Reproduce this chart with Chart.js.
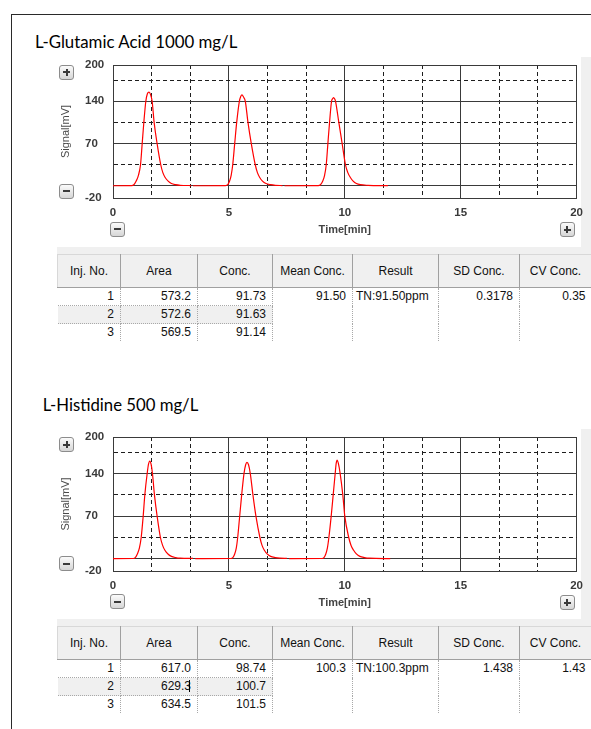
<!DOCTYPE html>
<html><head><meta charset="utf-8">
<script src="https://cdn.jsdelivr.net/npm/chart.js@4.4.1/dist/chart.umd.min.js"></script>
<style>
html,body{margin:0;padding:0;background:#fff;}
body{width:591px;height:729px;position:relative;overflow:hidden;font-family:"Liberation Sans",Arial,sans-serif;}
.frame{position:absolute;left:11px;top:14px;width:640px;height:800px;border-left:1px solid #2a2a2a;border-top:1px solid #2a2a2a;}
.title{position:absolute;font-family:Lato,"Noto Sans",sans-serif;color:#000;white-space:nowrap;line-height:1;}
.cv{position:absolute;left:0;width:591px;}
.btn{position:absolute;width:15px;height:15px;margin-left:-7.5px;margin-top:-7.5px;border:1px solid #8c8c8c;border-radius:3px;background:linear-gradient(#fbfbfb,#d6d6d6);box-sizing:border-box;}
.btn::before{content:"";position:absolute;left:3px;top:5.5px;width:7px;height:2px;background:#3a3a3a;}
.btn.plus::after{content:"";position:absolute;left:5.5px;top:3px;width:2px;height:7px;background:#3a3a3a;}
.band{position:absolute;background:#f0f0f0;}
table.res{position:absolute;left:57px;width:534px;border-collapse:collapse;table-layout:fixed;font-size:12px;color:#111;}
table.res th{height:32px;padding:0;background:#f0f0f0;font-weight:normal;text-align:center;border-top:1px solid #d8d8d8;border-right:1px solid #a0a0a0;border-bottom:1px solid #a0a0a0;}
table.res td{height:17px;line-height:17px;padding:0 6px 0 2px;text-align:right;border-right:1px dotted #a8a8a8;border-bottom:1px dotted #a8a8a8;white-space:nowrap;overflow:visible;}
table.res td.span{vertical-align:top;border-bottom:none;}
table.res td.left{text-align:left;padding-left:3px;}
table.res tr.sel td.c{background:#f0f0f0;}
table.res tr.last td{border-bottom:none;}
.caret{display:inline-block;width:1px;height:12px;background:#000;margin-left:-2px;margin-right:1px;vertical-align:-2px;}
</style>
</head>
<body>
<div class="frame"></div>

<div class="title" id="t1">L-Glutamic Acid 1000 mg/L</div>
<div class="band" style="left:581px;top:57px;width:10px;height:190px;"></div>
<div class="band" style="left:57px;top:247px;width:534px;height:7px;"></div>
<div class="cv" style="top:50px;height:195px;"><canvas id="c1"></canvas></div>
<div class="btn plus" style="left:66.7px;top:72px;"></div>
<div class="btn" style="left:66.7px;top:191px;"></div>
<div class="btn" style="left:117.3px;top:229px;"></div>
<div class="btn plus" style="left:567.3px;top:229.5px;"></div>
<table class="res" id="tb1" style="top:254px;"></table>

<div class="title" id="t2">L-Histidine 500 mg/L</div>
<div class="band" style="left:581px;top:429px;width:10px;height:190px;"></div>
<div class="band" style="left:57px;top:619px;width:534px;height:7px;"></div>
<div class="cv" style="top:422px;height:196px;"><canvas id="c2"></canvas></div>
<div class="btn plus" style="left:66.7px;top:444.5px;"></div>
<div class="btn" style="left:66.7px;top:563.5px;"></div>
<div class="btn" style="left:117.3px;top:601.7px;"></div>
<div class="btn plus" style="left:567.3px;top:602.5px;"></div>
<table class="res" id="tb2" style="top:626px;"></table>

<script>
// ---------- axis definitions ----------
const xGrid = [0, 5/3, 10/3, 5, 20/3, 25/3, 10, 35/3, 40/3, 15, 50/3, 55/3, 20];
const xTickLabels = [0, 5, 10, 15, 20];
const xMajor = [0, 5, 10, 15, 20];
const yGrid = [-20, 0, 35, 70, 105, 140, 175, 200];
const yTickLabels = [-20, 70, 140, 200];
const yMajor = [-20, 0, 70, 140, 200];

// ---------- L-Glutamic Acid 1000 mg/L : three injections [time min, signal mV] ----------
const gluInj1 = [[0,0.3],[0.80,0.5],[0.90,2],[1.00,8],[1.10,18],[1.187,35],[1.259,70],[1.33,105],[1.416,140],[1.48,152],[1.555,155],[1.62,151],[1.688,140],[1.774,105],[1.903,70],[2.06,35],[2.15,22],[2.25,14],[2.38,8],[2.52,4],[2.70,2],[2.90,1],[3.38,0.6]];
const gluInj2 = [[3.45,0.3],[4.85,0.5],[4.95,2],[5.03,8],[5.10,18],[5.165,35],[5.25,70],[5.336,105],[5.451,140],[5.51,148],[5.565,150.5],[5.63,147],[5.708,140],[5.823,105],[5.966,70],[6.137,35],[6.23,22],[6.33,14],[6.45,8],[6.60,4],[6.80,2],[7.00,1],[7.31,0.6]];
const gluInj3 = [[7.40,0.3],[8.85,0.5],[8.95,2],[9.05,8],[9.13,18],[9.199,35],[9.27,70],[9.342,105],[9.428,140],[9.47,144],[9.514,146],[9.56,144],[9.60,140],[9.742,105],[9.886,70],[10.029,35],[10.13,22],[10.24,14],[10.36,8],[10.50,4],[10.67,2],[11.0,1],[11.86,0.4]];

// ---------- L-Histidine 500 mg/L : three injections ----------
const hisInj1 = [[0,0.3],[0.88,0.5],[0.96,2],[1.05,8],[1.14,18],[1.216,35],[1.302,70],[1.373,105],[1.474,140],[1.53,155],[1.588,160.5],[1.645,155],[1.702,140],[1.788,105],[1.903,70],[2.046,35],[2.14,22],[2.24,14],[2.37,8],[2.52,4],[2.70,2],[2.90,1],[3.45,0.6]];
const hisInj2 = [[3.55,0.3],[5.08,0.5],[5.17,2],[5.25,8],[5.32,18],[5.379,35],[5.465,70],[5.551,105],[5.651,140],[5.72,154],[5.78,158.5],[5.85,154],[5.923,140],[6.037,105],[6.166,70],[6.338,35],[6.43,22],[6.53,14],[6.65,8],[6.80,4],[7.00,2],[7.20,1],[7.50,0.6]];
const hisInj3 = [[7.60,0.3],[9.02,0.5],[9.10,2],[9.18,8],[9.25,18],[9.313,35],[9.413,70],[9.499,105],[9.585,140],[9.63,157],[9.671,162],[9.72,157],[9.80,140],[9.914,105],[10.0,70],[10.17,35],[10.27,22],[10.38,14],[10.50,8],[10.65,4],[10.85,2],[11.05,1],[11.96,0.4]];

// ---------- result tables ----------
const tableHeaders = ['Inj. No.', 'Area', 'Conc.', 'Mean Conc.', 'Result', 'SD Conc.', 'CV Conc.'];
const colWidths = [63, 77, 75, 80, 86, 81, 72];
const gluInjNo = ['1', '2', '3'];
const gluArea = ['573.2', '572.6', '569.5'];
const gluConc = ['91.73', '91.63', '91.14'];
const gluSummary = ['91.50', 'TN:91.50ppm', '0.3178', '0.35'];
const hisInjNo = ['1', '2', '3'];
const hisArea = ['617.0', '629.3', '634.5'];
const hisConc = ['98.74', '100.7', '101.5'];
const hisSummary = ['100.3', 'TN:100.3ppm', '1.438', '1.43'];

const near = (v, arr) => arr.some(a => Math.abs(a - v) < 1e-6);

function makeChart(id, injections, canvasH, xTitlePad) {
  const el = document.getElementById(id);
  el.parentNode.style.height = canvasH + 'px';
  return new Chart(el, {
    type: 'line',
    data: {
      datasets: injections.map(inj => ({
        data: inj.map(p => ({x: p[0], y: p[1]})),
        borderColor: '#ff0000',
        borderWidth: 1.2,
        pointRadius: 0,
        fill: false,
        cubicInterpolationMode: 'monotone'
      }))
    },
    options: {
      responsive: true,
      maintainAspectRatio: false,
      animation: false,
      events: [],
      layout: {padding: {left: 85, top: 15, right: 12, bottom: 5}},
      plugins: {legend: {display: false}, tooltip: {enabled: false}},
      scales: {
        x: {
          type: 'linear', min: 0, max: 20,
          afterBuildTicks: s => { s.ticks = xGrid.map(v => ({value: v})); },
          afterFit: s => { s.height = 42; },
          ticks: {
            autoSkip: false, maxRotation: 0, minRotation: 0, padding: 8,
            color: '#3a3a3a', font: {size: 11.5, weight: 'bold'},
            callback: v => near(v, xTickLabels) ? String(Math.round(v)) : ''
          },
          grid: {drawTicks: false, color: c => (c.tick && near(c.tick.value, xMajor)) ? '#3a3a3a' : '#1e1e1e', lineWidth: 1},
          border: {display: true, color: '#3a3a3a', width: 1, dash: c => (c.tick && !near(c.tick.value, xMajor)) ? [4, 3] : []},
          title: {display: true, text: 'Time[min]', color: '#444', font: {size: 11, weight: 'bold'}, padding: {top: 0, bottom: xTitlePad}}
        },
        y: {
          type: 'linear', min: -20, max: 200,
          afterBuildTicks: s => { s.ticks = yGrid.map(v => ({value: v})); },
          afterFit: s => { s.width = 28; },
          ticks: {
            autoSkip: false, crossAlign: 'far', padding: 0,
            color: '#3a3a3a', font: {size: 11.5, weight: 'bold'},
            callback: v => near(v, yTickLabels) ? String(Math.round(v)) : ''
          },
          grid: {drawTicks: false, color: c => (c.tick && near(c.tick.value, yMajor)) ? '#3a3a3a' : '#1e1e1e', lineWidth: 1},
          border: {display: true, color: '#3a3a3a', width: 1, dash: c => (c.tick && !near(c.tick.value, yMajor)) ? [4, 3] : []},
          title: {display: true, text: 'Signal[mV]', color: '#4a4a4a', font: {size: 11}, padding: {top: -26, bottom: 0}}
        }
      }
    }
  });
}

makeChart('c1', [gluInj1, gluInj2, gluInj3], 195, 3.4);
makeChart('c2', [hisInj1, hisInj2, hisInj3], 196, 3.7);

function buildTable(id, injNo, area, conc, summary, caretRow) {
  const tb = document.getElementById(id);
  let h = '<colgroup>' + colWidths.map(w => '<col style="width:' + w + 'px">').join('') + '</colgroup>';
  h += '<tr>' + tableHeaders.map((t, i) => '<th' + (i === 0 ? ' style="border-left:1px solid #d8d8d8"' : '') + '>' + t + '</th>').join('') + '</tr>';
  for (let r = 0; r < injNo.length; r++) {
    const cls = (r === 1 ? 'sel' : '') + (r === injNo.length - 1 ? ' last' : '');
    h += '<tr class="' + cls + '">';
    h += '<td class="c">' + injNo[r] + '</td>';
    h += '<td class="c">' + area[r] + (r === caretRow ? '<span class="caret"></span>' : '') + '</td>';
    h += '<td class="c">' + conc[r] + '</td>';
    if (r === 0) {
      h += '<td class="span" rowspan="' + injNo.length + '">' + summary[0] + '</td>';
      h += '<td class="span left" rowspan="' + injNo.length + '">' + summary[1] + '</td>';
      h += '<td class="span" rowspan="' + injNo.length + '">' + summary[2] + '</td>';
      h += '<td class="span" rowspan="' + injNo.length + '" style="border-right:none">' + summary[3] + '</td>';
    }
    h += '</tr>';
  }
  tb.innerHTML = h;
}
buildTable('tb1', gluInjNo, gluArea, gluConc, gluSummary, -1);
buildTable('tb2', hisInjNo, hisArea, hisConc, hisSummary, 1);

function fitTitle(id, targetW, left, baseline) {
  const el = document.getElementById(id);
  const ctx = document.createElement('canvas').getContext('2d');
  ctx.font = '18px Lato';
  const m = ctx.measureText(el.textContent);
  const fs = 18 * targetW / m.width;
  const A = (m.fontBoundingBoxAscent || 17.8) / 18 * fs;
  const D = (m.fontBoundingBoxDescent || 3.8) / 18 * fs;
  el.style.fontSize = fs + 'px';
  el.style.left = left + 'px';
  el.style.top = (baseline - A - (fs - A - D) / 2) + 'px';
}
fitTitle('t1', 203, 35, 49.3);
fitTitle('t2', 155.6, 42.7, 412);
</script>
</body></html>
